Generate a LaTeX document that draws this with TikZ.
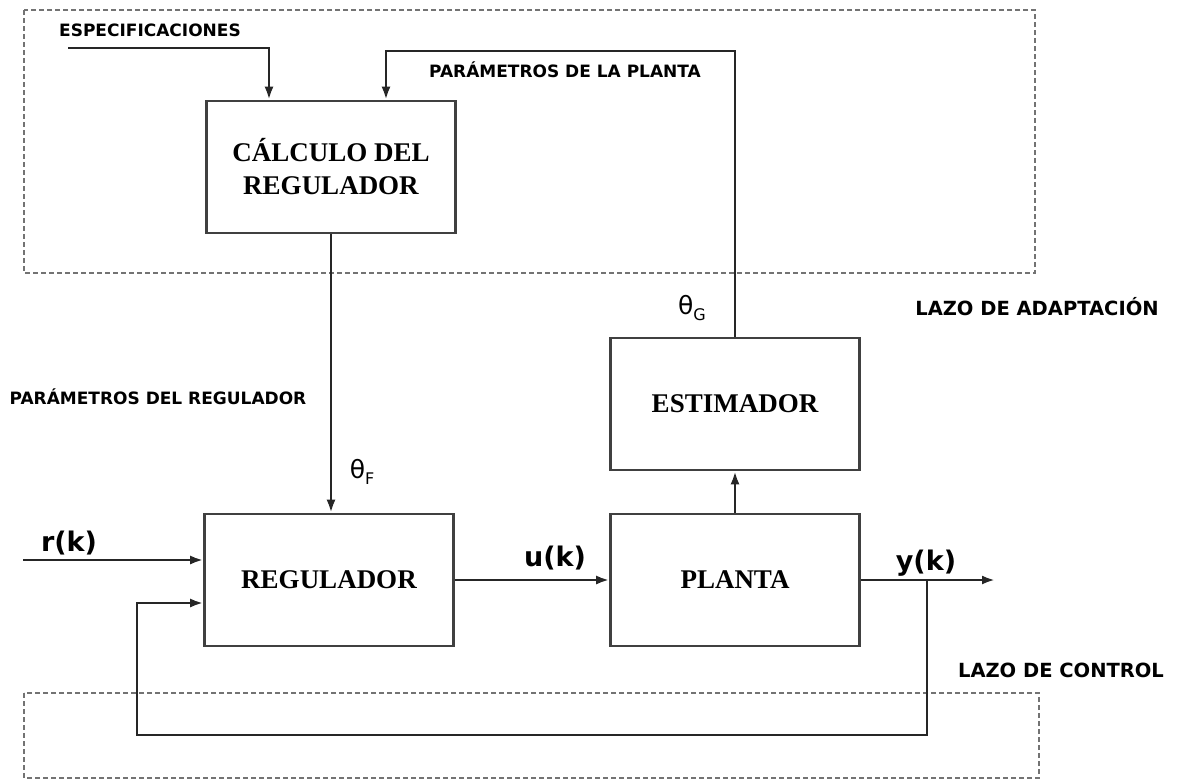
\documentclass[tikz,border=0pt]{standalone}
\usepackage{fontspec}
\setmainfont{Liberation Serif}
\newfontfamily\labelfont{DejaVu Sans}
\usetikzlibrary{arrows.meta, positioning}

\newcommand{\thetasub}[1]{{\labelfont\fontsize{25}{25}\selectfont θ\raisebox{-0.25em}{\fontsize{16}{16}\selectfont #1}}}

\begin{document}
\begin{tikzpicture}[x=1pt, y=-1pt, >={Latex[length=13pt, width=9pt]},
  block/.style={draw=black!75, line width=2.6pt, minimum width=249pt, minimum height=132pt,
    align=center, inner sep=0pt, font=\fontsize{27}{33}\selectfont\bfseries},
  flow/.style={->, draw=black!85, line width=2.5pt},
  zone/.style={draw=black!55, line width=1.2pt, dash pattern=on 5pt off 3pt},
  tag/.style={inner sep=0pt, font=\labelfont\bfseries\fontsize{17}{17}\selectfont},
  loop/.style={inner sep=0pt, font=\labelfont\bfseries\fontsize{19.5}{19.5}\selectfont},
  sig/.style={inner sep=0pt, font=\labelfont\bfseries\fontsize{27}{27}\selectfont}]
  \fill[white] (0,0) rectangle (1179,780);
  \useasboundingbox (0,0) rectangle (1179,780);
  % loop regions
  \draw[zone] (24,10) rectangle (1035,273);
  \draw[zone] (24,693) rectangle (1039,778);
  \node[loop] (lazoA) at (1037,307) {LAZO DE ADAPTACIÓN};
  \node[loop] (lazoC) at (1061,670) {LAZO DE CONTROL};
  % blocks
  \node[block] (calc)  at (331,167) {CÁLCULO DEL\\REGULADOR};
  \node[block] (reg)   at (329,580) {REGULADOR};
  \node[block] (plant) at (735,580) {PLANTA};
  \node[block] (est)   at (735,404) {ESTIMADOR};
  % labels
  \node[tag] (espec)    at (150,30)  {ESPECIFICACIONES};
  \node[tag] (parplant) at (565,70)  {PARÁMETROS DE LA PLANTA};
  \node[tag] (parreg)   at (158,397) {PARÁMETROS DEL REGULADOR};
  \node[inner sep=0pt] (thF) at (362,472) {\thetasub{F}};
  \node[inner sep=0pt] (thG) at (692,308) {\thetasub{G}};
  \node[sig] (rk) at (69,543)  {r(k)};
  \node[sig] (uk) at (555,558) {u(k)};
  \node[sig] (yk) at (926,563) {y(k)};
  % free ends and corners
  \coordinate (e1) at (68,48);
  \coordinate (e2) at (269,48);
  \coordinate (p1) at (386,51);
  \coordinate (rin) at (23,560);
  \coordinate (yout) at (995,580);
  \coordinate (br) at (927,580);
  \coordinate (fb) at (137,735);
  % signals
  \draw[flow] (e1) -- (e2) -- (e2 |- calc.north);
  \draw[flow] (est.north) |- (p1) -- (p1 |- calc.north);
  \draw[flow] (calc.south) -- (calc.south |- reg.north);
  \draw[flow] (rin) -- (rin -| reg.west);
  \draw[flow] (reg.east) -- (plant.west);
  \draw[flow] (plant.north) -- (est.south);
  \draw[flow] (plant.east) -- (yout);
  \draw[flow] (br) |- (fb) |- ([yshift=-23pt]reg.west);
\end{tikzpicture}
\end{document}
